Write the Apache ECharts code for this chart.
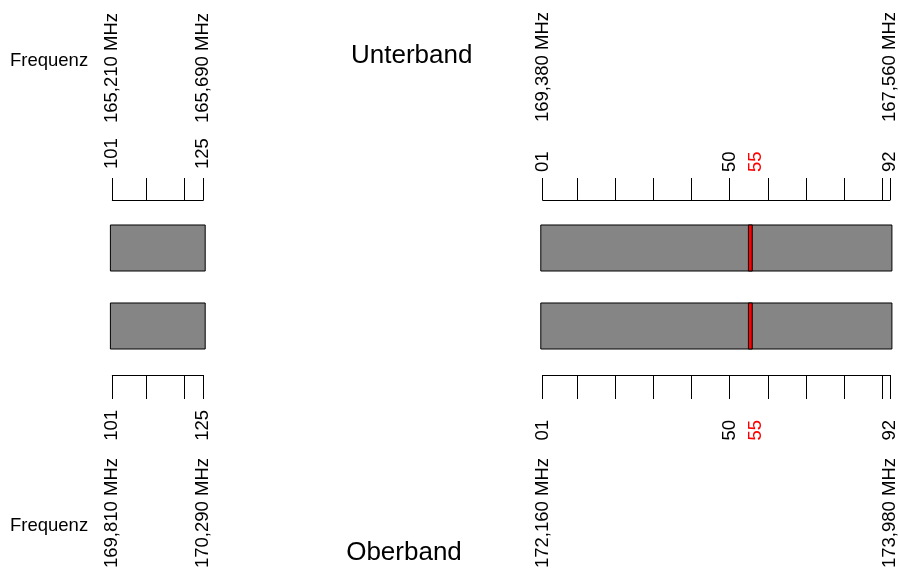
<!DOCTYPE html>
<html><head><meta charset="utf-8">
<script src="https://cdn.jsdelivr.net/npm/echarts@6/dist/echarts.min.js"></script>
<style>html,body{margin:0;padding:0;background:#fff}#c{width:898px;height:568px}</style>
</head><body><div id="c"></div>
<script>
// ---- data ----
const rows = ['Unterband', 'Oberband'];
const leftRange = [101, 125];
const leftTicks = [101, 110, 120, 125];
const leftLabels = [101, 125];
const rightRange = [1, 92];
const rightTicks = [1, 10, 20, 30, 40, 50, 60, 70, 80, 90, 92];
const rightLabels = [1, 50, 55, 92];
const highlightChannel = 55;
const leftTopFreq = ['165,210 MHz', '165,690 MHz'];
const leftBottomFreq = ['169,810 MHz', '170,290 MHz'];
const rightTopFreq = ['169,380 MHz', '167,560 MHz'];
const rightBottomFreq = ['172,160 MHz', '173,980 MHz'];
// bars: [from channel, to channel, row index]
const leftBars = [[100.5, 125.5, 0], [100.5, 125.5, 1]];
const rightBars = [[0.5, 92.5, 0], [0.5, 92.5, 1]];
const markBars = [[54.9, 55.9, 0], [54.9, 55.9, 1]];

// ---- chart ----
const FONT = 'Liberation Sans, Arial, sans-serif';
const FS = 18.5;
const chart = echarts.init(document.getElementById('c'), null, {renderer: 'canvas'});

function chanFmt(v) {
  if (v === highlightChannel) return '{r|' + v + '}';
  return v < 10 ? '0' + v : String(v);
}
function tickAxis(grid, range, ticks, labels, pos, offset, tickLen, margin, rot, pad) {
  return {
    type: 'value', gridIndex: grid, position: pos, offset: offset,
    min: range[0], max: range[1],
    axisLine: {show: true, onZero: false, lineStyle: {color: '#000', width: 1}},
    axisTick: {show: true, inside: false, length: tickLen, customValues: ticks, lineStyle: {color: '#000', width: 1}},
    axisLabel: {show: true, rotate: rot, margin: margin, customValues: labels, formatter: chanFmt,
      fontSize: FS, color: '#000', fontFamily: FONT,
      rich: {r: {fontSize: FS, color: '#ff0000', fontFamily: FONT, padding: pad}}},
    splitLine: {show: false}
  };
}
function freqAxis(grid, range, freqs, pos, offset, margin, rot) {
  return {
    type: 'value', gridIndex: grid, position: pos, offset: offset,
    min: range[0], max: range[1],
    axisLine: {show: false, onZero: false},
    axisTick: {show: false},
    axisLabel: {show: true, rotate: rot, margin: margin, customValues: [range[0], range[1]],
      formatter: v => (v === range[0] ? freqs[0] : freqs[1]),
      fontSize: FS, color: '#000', fontFamily: FONT},
    splitLine: {show: false}
  };
}
function renderBar(fill) {
  return function (params, api) {
    const s = api.coord([api.value(0), api.value(2)]);
    const e = api.coord([api.value(1), api.value(2)]);
    const h = api.size([0, 1])[1] * 0.59;
    return {
      type: 'rect',
      shape: {x: s[0], y: s[1] - h / 2, width: e[0] - s[0], height: h},
      style: {fill: fill, stroke: '#000', lineWidth: 1}
    };
  };
}

const option = {
  animation: false,
  backgroundColor: '#fff',
  grid: [
    {left: 112.3, width: 91, top: 209, height: 156, containLabel: false, outerBoundsMode: 'none'},
    {left: 542.7, width: 347.3, top: 209, height: 156, containLabel: false, outerBoundsMode: 'none'}
  ],
  xAxis: [
    tickAxis(0, leftRange, leftTicks, leftLabels, 'top', 9, 22, 31, -90, [14, 0, 0, 0]),
    freqAxis(0, leftRange, leftTopFreq, 'top', 9, 77, -90),
    tickAxis(0, leftRange, leftTicks, leftLabels, 'bottom', 10, 24, 35, 90, [14, 0, 0, 0]),
    freqAxis(0, leftRange, leftBottomFreq, 'bottom', 10, 83, 90),
    tickAxis(1, rightRange, rightTicks, rightLabels, 'top', 9, 22, 28, -90, [14, 0, 0, 0]),
    freqAxis(1, rightRange, rightTopFreq, 'top', 9, 78, -90),
    tickAxis(1, rightRange, rightTicks, rightLabels, 'bottom', 10, 24, 45, 90, [14, 0, 0, 0]),
    freqAxis(1, rightRange, rightBottomFreq, 'bottom', 10, 83, 90)
  ],
  yAxis: [
    {type: 'category', gridIndex: 0, data: rows, inverse: true, show: false},
    {type: 'category', gridIndex: 1, data: rows, inverse: true, show: false}
  ],
  series: [
    {type: 'custom', xAxisIndex: 0, yAxisIndex: 0, clip: false, data: leftBars, renderItem: renderBar('#858585')},
    {type: 'custom', xAxisIndex: 4, yAxisIndex: 1, clip: false, data: rightBars, renderItem: renderBar('#858585')},
    {type: 'custom', xAxisIndex: 4, yAxisIndex: 1, clip: false, data: markBars, renderItem: renderBar('#ff0000'), z: 3}
  ],
  graphic: [
    {type: 'text', x: 10, y: 61, style: {text: 'Frequenz', font: FS + 'px ' + FONT, fill: '#000', textVerticalAlign: 'middle'}},
    {type: 'text', x: 10, y: 526, style: {text: 'Frequenz', font: FS + 'px ' + FONT, fill: '#000', textVerticalAlign: 'middle'}},
    {type: 'text', x: 411.7, y: 56, style: {text: rows[0], font: '26px ' + FONT, fill: '#000', textAlign: 'center', textVerticalAlign: 'middle'}},
    {type: 'text', x: 404, y: 552.5, style: {text: rows[1], font: '26px ' + FONT, fill: '#000', textAlign: 'center', textVerticalAlign: 'middle'}}
  ]
};
chart.setOption(option);
</script>
</body></html>
